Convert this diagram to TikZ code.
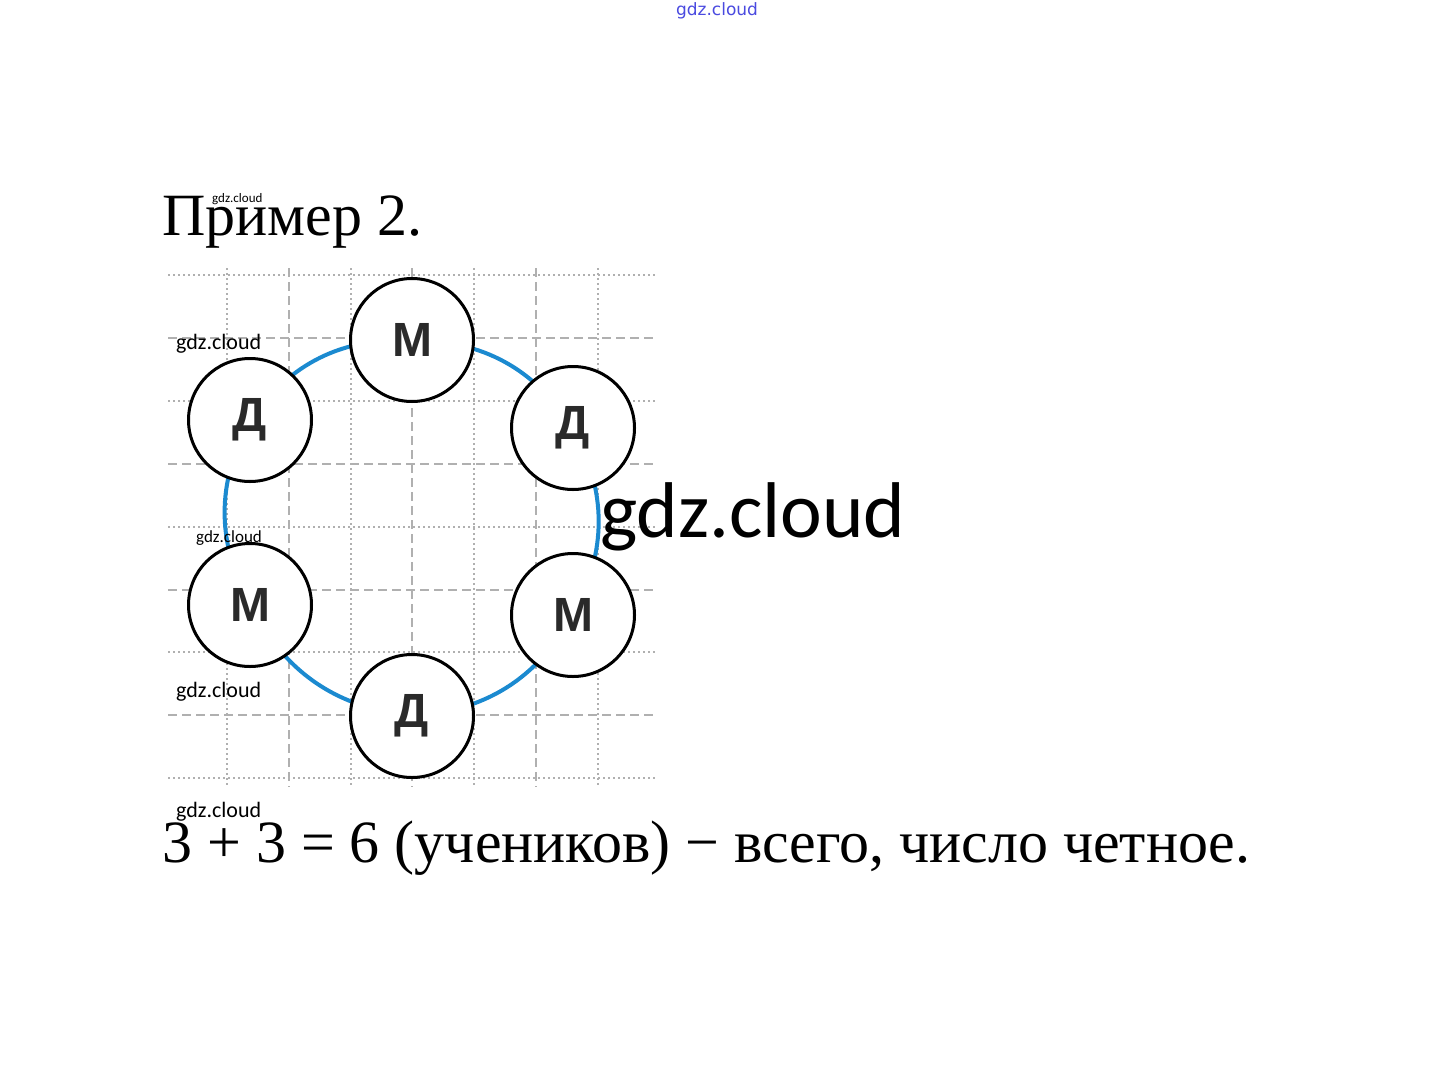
\documentclass[tikz,border=0pt]{standalone}
\usepackage{fontspec}
\setmainfont{Liberation Serif}
\newfontfamily\wmfont{Carlito}
\newfontfamily\letfont{Liberation Sans}
\newfontfamily\topwm{DejaVu Sans}
\definecolor{gridgray}{HTML}{B0B0B0}
\definecolor{ringblue}{HTML}{1B8AD0}
\definecolor{lettergray}{HTML}{2A2A2A}
\definecolor{wmblue}{HTML}{4A4AE0}
\tikzset{
  gdot/.style={draw=gridgray,line width=2pt,dash pattern=on 2pt off 3pt},
  gdash/.style={draw=gridgray,line width=2pt,dash pattern=on 9pt off 5pt},
  kid/.style={circle,draw=black,line width=3pt,fill=white,minimum size=123pt,inner sep=0pt,
    text=lettergray,font=\letfont\bfseries\fontsize{48}{48}\selectfont},
  ring/.style={draw=ringblue,line width=4pt,bend left=28},
  wm/.style={font=\wmfont\fontsize{#1}{#1}\selectfont,text=black,inner sep=0pt},
  bigtext/.style={font=\fontsize{60}{60}\selectfont,inner sep=0pt,anchor=base west}
}
\begin{document}
\begin{tikzpicture}[x=1pt,y=-1pt]
\useasboundingbox[fill=white] (0,0) rectangle (1434,1065);
% grid
\foreach \k in {0,...,8}{
  \pgfmathsetmacro{\yy}{275+62.9*\k}
  \pgfmathtruncatemacro{\pp}{mod(\k,2)}
  \ifnum\pp=0
    \draw[gdot] (168,\yy) -- (657,\yy);
  \else
    \draw[gdash] (168,\yy) -- (657,\yy);
  \fi
}
\foreach \j in {0,...,6}{
  \pgfmathsetmacro{\xx}{227+61.8*\j}
  \pgfmathtruncatemacro{\pp}{mod(\j,2)}
  \ifnum\pp=0
    \draw[gdot] (\xx,268) -- (\xx,787);
  \else
    \draw[gdash] (\xx,268) -- (\xx,787);
  \fi
}
% children
\coordinate (cMt) at (412,340);
\coordinate (cDr) at (573,428);
\coordinate (cMr) at (573,615);
\coordinate (cDb) at (412,716);
\coordinate (cMl) at (250,605);
\coordinate (cDl) at (250,420);
\draw[ring] (cMt) to (cDr);
\draw[ring] (cDr) to (cMr);
\draw[ring] (cMr) to (cDb);
\draw[ring] (cDb) to (cMl);
\draw[ring] (cMl) to (cDl);
\draw[ring] (cDl) to (cMt);
\node[kid] (Mt) at (cMt) {М};
\node[kid] (Dr) at (cDr) {Д};
\node[kid] (Mr) at (cMr) {М};
\node[kid] (Db) at (cDb) {Д};
\node[kid] (Ml) at (cMl) {М};
\node[kid] (Dl) at (cDl) {Д};
% texts
\node[bigtext] (title) at (162,235) {Пример 2.};
\node[bigtext] (eq) at (162,862) {3 + 3 = 6 (учеников) − всего, число четное.};
% watermarks
\node[font=\topwm\fontsize{17}{17}\selectfont,text=wmblue,inner sep=0pt] (w0) at (717,11) {gdz.cloud};
\node[wm=13,anchor=base west] (w1) at (212,202) {gdz.cloud};
\node[wm=22,anchor=base west] (w2) at (176,349) {gdz.cloud};
\node[wm=17,anchor=base west] (w3) at (196,542) {gdz.cloud};
\node[wm=22,anchor=base west] (w4) at (176,697) {gdz.cloud};
\node[wm=22,anchor=base west] (w5) at (176,817) {gdz.cloud};
\node[wm=79,anchor=base west] (w6) at (600,537) {gdz.cloud};
\end{tikzpicture}
\end{document}
